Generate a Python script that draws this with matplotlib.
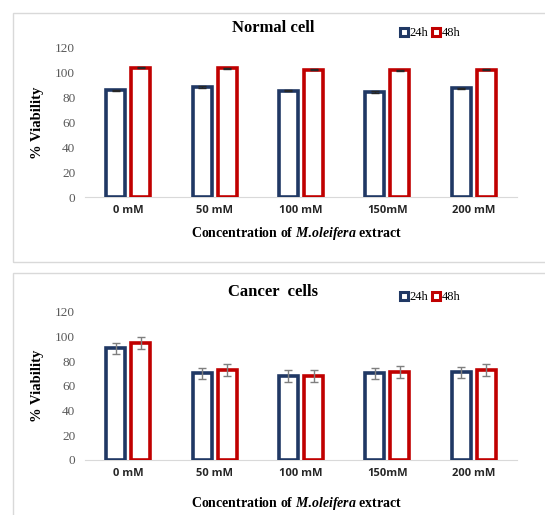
import numpy as np
import matplotlib
matplotlib.use("Agg")
import matplotlib.pyplot as plt
from matplotlib.patches import Rectangle, Patch

plt.rcParams["mathtext.fontset"] = "custom"
plt.rcParams["mathtext.it"] = "Liberation Serif:italic:bold"
plt.rcParams["mathtext.rm"] = "Liberation Serif:bold"

categories = ["0 mM", "50 mM", "100 mM", "150mM", "200 mM"]
series = ["24h", "48h"]

normal_24h = [86.0, 88.5, 85.5, 84.5, 87.5]
normal_48h = [104.0, 103.5, 102.5, 102.0, 102.5]
normal_err_24h = [0.5, 0.5, 0.5, 0.5, 0.5]
normal_err_48h = [0.5, 0.5, 0.5, 0.5, 0.5]

cancer_24h = [90.5, 70.0, 68.0, 70.0, 71.0]
cancer_48h = [94.5, 73.0, 68.0, 71.0, 73.0]
cancer_err_24h = [4.5, 4.5, 4.5, 4.5, 4.5]
cancer_err_48h = [5.0, 5.0, 5.0, 5.0, 5.0]

C24 = "#203864"
C48 = "#C00000"
SERIF = "Liberation Serif"

fig = plt.figure(figsize=(5.45, 5.15), dpi=100)
W, H = 545, 515


def fx(px):
    return px / W


def fy(py):
    return 1 - py / H


# panel frames (light grey boxes around each chart)
for top, bot in [(13, 262), (273, 530)]:
    fig.patches.append(Rectangle((fx(13), fy(bot)), fx(560) - fx(13), fy(top) - fy(bot),
                                 transform=fig.transFigure, fill=False,
                                 edgecolor="#D9D9D9", linewidth=1.0))


def panel(y0, y120, title, v24, v48, e24, e48, ecol, title_y, xlab_y, leg_y):
    ax = fig.add_axes([fx(85), fy(y0), fx(517) - fx(85), fy(y120) - fy(y0)])
    x = np.arange(len(categories))
    w = 0.22
    off = 0.145
    ekw = dict(ecolor=ecol, elinewidth=1.0, capsize=3, capthick=1.0)
    ax.bar(x - off, v24, width=w, facecolor="white", edgecolor=C24, linewidth=2.6,
           yerr=e24, error_kw=ekw, zorder=3)
    ax.bar(x + off, v48, width=w, facecolor="white", edgecolor=C48, linewidth=2.6,
           yerr=e48, error_kw=ekw, zorder=3)
    ax.set_xlim(-0.5, len(categories) - 0.5)
    ax.set_ylim(0, 120)
    ax.set_yticks(range(0, 121, 20))
    ax.set_xticks(x)
    ax.set_xticklabels(categories, fontsize=8, fontweight="bold", color="#262626",
                       family="Open Sans")
    ax.tick_params(axis="y", length=0, labelsize=9.5, labelcolor="#595959", pad=7)
    ax.tick_params(axis="x", length=0, pad=6)
    for s in ["top", "right", "left"]:
        ax.spines[s].set_visible(False)
    ax.spines["bottom"].set_color("#D9D9D9")
    for lab in ax.get_yticklabels():
        lab.set_family(SERIF)

    fig.text(fx(273), fy(title_y), title, ha="center", va="center",
             fontsize=12, fontweight="bold", family=SERIF)
    fig.text(fx(297), fy(xlab_y), r"Concentration of $\mathit{M.\!oleifera}$ extract",
             ha="center", va="center", fontsize=10, fontweight="bold", family=SERIF)
    fig.text(fx(38), (fy(y0) + fy(y120)) / 2, "% Viability", rotation=90,
             ha="center", va="center", fontsize=10.5, fontweight="bold", family=SERIF)

    handles = [Patch(facecolor="white", edgecolor=C24, linewidth=2.2),
               Patch(facecolor="white", edgecolor=C48, linewidth=2.2)]
    fig.legend(handles, series, loc="center left", bbox_to_anchor=(fx(394), fy(leg_y)),
               ncol=2, frameon=False, handlelength=0.6, handleheight=0.6,
               handletextpad=0.15, columnspacing=0.3, borderpad=0,
               prop=dict(family=SERIF, size=9))
    return ax


panel(197, 48, "Normal cell", normal_24h, normal_48h, normal_err_24h, normal_err_48h,
      "#262626", 28, 233, 33)
panel(460, 311.7, "Cancer  cells", cancer_24h, cancer_48h, cancer_err_24h, cancer_err_48h,
      "#7F7F7F", 292, 503, 297)

fig.savefig("out.png", dpi=100)
